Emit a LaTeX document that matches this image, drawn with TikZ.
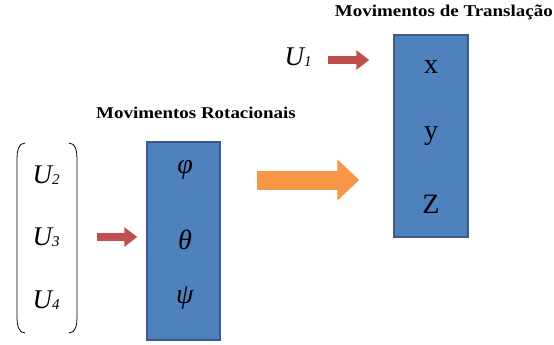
\documentclass[tikz,border=0pt]{standalone}
\usepackage{fontspec}
\setmainfont{Liberation Serif}
\usetikzlibrary{arrows.meta,positioning}
\definecolor{boxblue}{HTML}{4F81BD}
\definecolor{boxedge}{HTML}{385D8A}
\definecolor{arrred}{HTML}{C0504D}
\definecolor{arrorange}{HTML}{F79646}
\tikzset{
	varbox/.style={rectangle, draw=boxedge, line width=1.5pt, fill=boxblue, inner sep=0pt}, % blue column of state variables
	var/.style={font=\fontsize{28}{30}\selectfont, inner sep=0pt},
	input/.style={font=\fontsize{27}{30}\selectfont\itshape, inner sep=0pt},
	title/.style={font=\fontsize{16.5}{18}\selectfont\bfseries, inner sep=0pt, xscale=1.15},
	redarrow/.style={arrred, line width=8pt, -{Triangle[length=13pt,width=19pt]}},
	orangearrow/.style={arrorange, line width=19pt, -{Triangle[length=22pt,width=40pt]}}
}
\newcommand{\uin}[1]{U\raisebox{-1.5pt}{\fontsize{15}{16}\selectfont #1}}
\begin{document}
\begin{tikzpicture}[x=1pt,y=-1pt]
	\useasboundingbox (0,0) rectangle (554,345);
	% boxes
	\node[varbox, minimum width=73pt, minimum height=198pt] (rot) at (183.5,241) {};
	\node[varbox, minimum width=74pt, minimum height=202pt] (trans) at (431,136) {};
	\node[title] (rottitle) at (196,113) {Movimentos Rotacionais};
	\node[title, anchor=east] (transtitle) at (553,12) {Movimentos de Translação};
	% variables
	\node[var] (phi) at (185,170) {\textit{φ}};
	\node[var] (theta) at (185,240) {\textit{θ}};
	\node[var] (psi) at (185,298) {\textit{ψ}};
	\node[var] (x) at (431,67) {x};
	\node[var] (y) at (431,136) {y};
	\node[var] (z) at (431,204) {Z};
	% inputs
	\node[input] (u1) at (298,57) {\uin{1}};
	\node[input] (u2) at (46,175) {\uin{2}};
	\node[input] (u3) at (46,237) {\uin{3}};
	\node[input] (u4) at (46,300) {\uin{4}};
	\draw[line width=0.8pt] (25,143) to[out=180,in=90] (17,158) -- (17,318) to[out=-90,in=180] (25,333);
	\draw[line width=0.8pt] (69,143) to[out=0,in=90] (77,158) -- (77,318) to[out=-90,in=0] (69,333);
	% arrows
	\coordinate (r3) at (97,237);
	\coordinate (r1) at (328,60);
	\coordinate (o1) at (257,180);
	\draw[redarrow, shorten >=9pt] (r3) -- (r3 -| rot.west);
	\draw[redarrow, shorten >=24pt] (r1) -- (r1 -| trans.west);
	\draw[orangearrow, shorten >=34pt] (o1) -- (o1 -| trans.west);
\end{tikzpicture}
\end{document}
